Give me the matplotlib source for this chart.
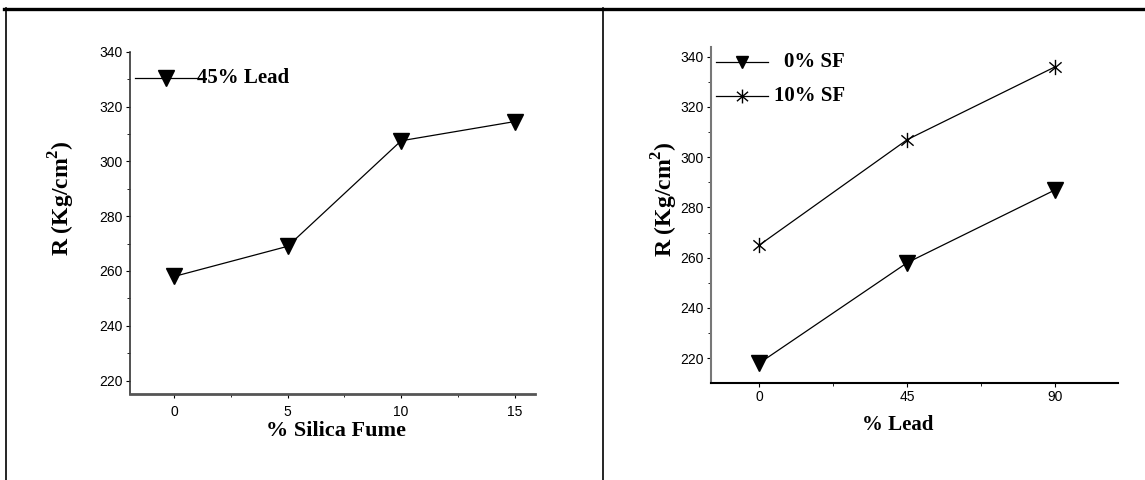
import matplotlib
matplotlib.use("Agg")
import matplotlib.pyplot as plt
from matplotlib.lines import Line2D
from matplotlib.path import Path
from matplotlib.ticker import MultipleLocator

plt.rcParams["mathtext.fontset"] = "custom"
plt.rcParams["mathtext.bf"] = "Liberation Serif:bold"
plt.rcParams["mathtext.rm"] = "Liberation Serif"

# ---- data ----
silica_fume = [0, 5, 10, 15]
r_45_lead = [258, 269, 307.5, 314.5]

lead = [0, 45, 90]
r_0_sf = [218, 258, 287]
r_10_sf = [265, 307, 336]

left_xticks = [0, 5, 10, 15]
left_yticks = [220, 240, 260, 280, 300, 320, 340]
right_xticks = [0, 45, 90]
right_yticks = [220, 240, 260, 280, 300, 320, 340]

W, H = 1145, 480
fig = plt.figure(figsize=(W / 100, H / 100), dpi=100)

def fx(px):
    return px / W

def fy(py):
    return 1 - py / H

sans = ["Liberation Sans", "DejaVu Sans"]
serif = ["Liberation Serif", "DejaVu Serif"]

d = 0.8
asterisk = Path([(0, -1), (0, 1), (-d, -d * 0.85), (d, d * 0.85), (-d, d * 0.85), (d, -d * 0.85)],
                [Path.MOVETO, Path.LINETO, Path.MOVETO, Path.LINETO, Path.MOVETO, Path.LINETO])

# ---- left panel ----
axL = fig.add_axes([fx(130), fy(394.3), fx(535) - fx(130), fy(51.7) - fy(394.3)])
axL.plot(silica_fume, r_45_lead, color="black", lw=0.9, marker="v",
         markersize=12, markerfacecolor="black", markeredgecolor="black")
axL.set_xlim(-1.95, 15.9)
axL.set_ylim(215, 340)
axL.set_xticks(left_xticks)
axL.set_yticks(left_yticks)
axL.xaxis.set_minor_locator(MultipleLocator(2.5))
axL.yaxis.set_minor_locator(MultipleLocator(10))
for s in ["top", "right"]:
    axL.spines[s].set_visible(False)
axL.spines["left"].set_color("#333333")
axL.spines["left"].set_linewidth(1.2)
axL.spines["bottom"].set_color("#555555")
axL.spines["bottom"].set_linewidth(2.0)

# ---- right panel ----
axR = fig.add_axes([fx(710.7), fy(382.7), fx(1118.3) - fx(710.7), fy(46.7) - fy(382.7)])
axR.plot(lead, r_0_sf, color="black", lw=0.9, marker="v",
         markersize=11, markerfacecolor="black", markeredgecolor="black")
axR.plot(lead, r_10_sf, color="black", lw=0.9, marker=asterisk,
         markersize=11, markeredgewidth=1.0, markeredgecolor="black")
axR.set_xlim(-14.8, 109.2)
axR.set_ylim(210.2, 344)
axR.set_xticks(right_xticks)
axR.set_yticks(right_yticks)
axR.xaxis.set_minor_locator(MultipleLocator(22.5))
axR.yaxis.set_minor_locator(MultipleLocator(10))
for s in ["top", "right"]:
    axR.spines[s].set_visible(False)
axR.spines["left"].set_color("#777777")
axR.spines["left"].set_linewidth(1.5)
axR.spines["bottom"].set_color("black")
axR.spines["bottom"].set_linewidth(1.5)

for ax in (axL, axR):
    ax.tick_params(which="major", direction="out", length=3, width=0.8,
                   pad=2, labelsize=10, colors="black")
    ax.tick_params(which="minor", direction="out", length=2, width=0.6, colors="black")
    for lab in ax.get_xticklabels() + ax.get_yticklabels():
        lab.set_family(sans)
    ax.patch.set_visible(False)
axL.tick_params(axis="x", which="major", pad=5)

# ---- axis labels ----
fig.text(fx(336), fy(431), "% Silica Fume", ha="center", va="center",
         family=serif, weight="bold", fontsize=16)
fig.text(fx(898), fy(425), "% Lead", ha="center", va="center",
         family=serif, weight="bold", fontsize=15)
fig.text(fx(62), fy(198), r"R (Kg/cm$^\mathbf{2}$)", ha="center", va="center",
         rotation=90, family=serif, weight="bold", fontsize=17)
fig.text(fx(665), fy(199), r"R (Kg/cm$^\mathbf{2}$)", ha="center", va="center",
         rotation=90, family=serif, weight="bold", fontsize=17)

# ---- legends (drawn manually) ----
fig.add_artist(Line2D([fx(135), fx(197)], [fy(78), fy(78)], color="black", lw=0.9))
fig.add_artist(Line2D([fx(166)], [fy(78)], marker="v", markersize=12,
                      color="black", linestyle="none"))
fig.text(fx(197), fy(78), "45% Lead", ha="left", va="center",
         family=serif, weight="bold", fontsize=15)

fig.add_artist(Line2D([fx(716), fx(768)], [fy(62), fy(62)], color="black", lw=0.9))
fig.add_artist(Line2D([fx(742)], [fy(62)], marker="v", markersize=9,
                      color="black", linestyle="none"))
fig.text(fx(845), fy(62), "0% SF", ha="right", va="center",
         family=serif, weight="bold", fontsize=15)

fig.add_artist(Line2D([fx(716), fx(768)], [fy(96), fy(96)], color="black", lw=0.9))
fig.add_artist(Line2D([fx(742)], [fy(96)], marker=asterisk, markersize=10,
                      markeredgewidth=1.0, color="black", linestyle="none"))
fig.text(fx(845), fy(96), "10% SF", ha="right", va="center",
         family=serif, weight="bold", fontsize=15)

# ---- table borders ----
fig.add_artist(Line2D([fx(4), 1.0], [fy(8.5), fy(8.5)], color="black", lw=2.4))
fig.add_artist(Line2D([fx(5.5), fx(5.5)], [fy(8), 0.0], color="black", lw=1.2))
fig.add_artist(Line2D([fx(603), fx(603)], [fy(8), 0.0], color="black", lw=1.2))

fig.savefig("out.png", dpi=100)
